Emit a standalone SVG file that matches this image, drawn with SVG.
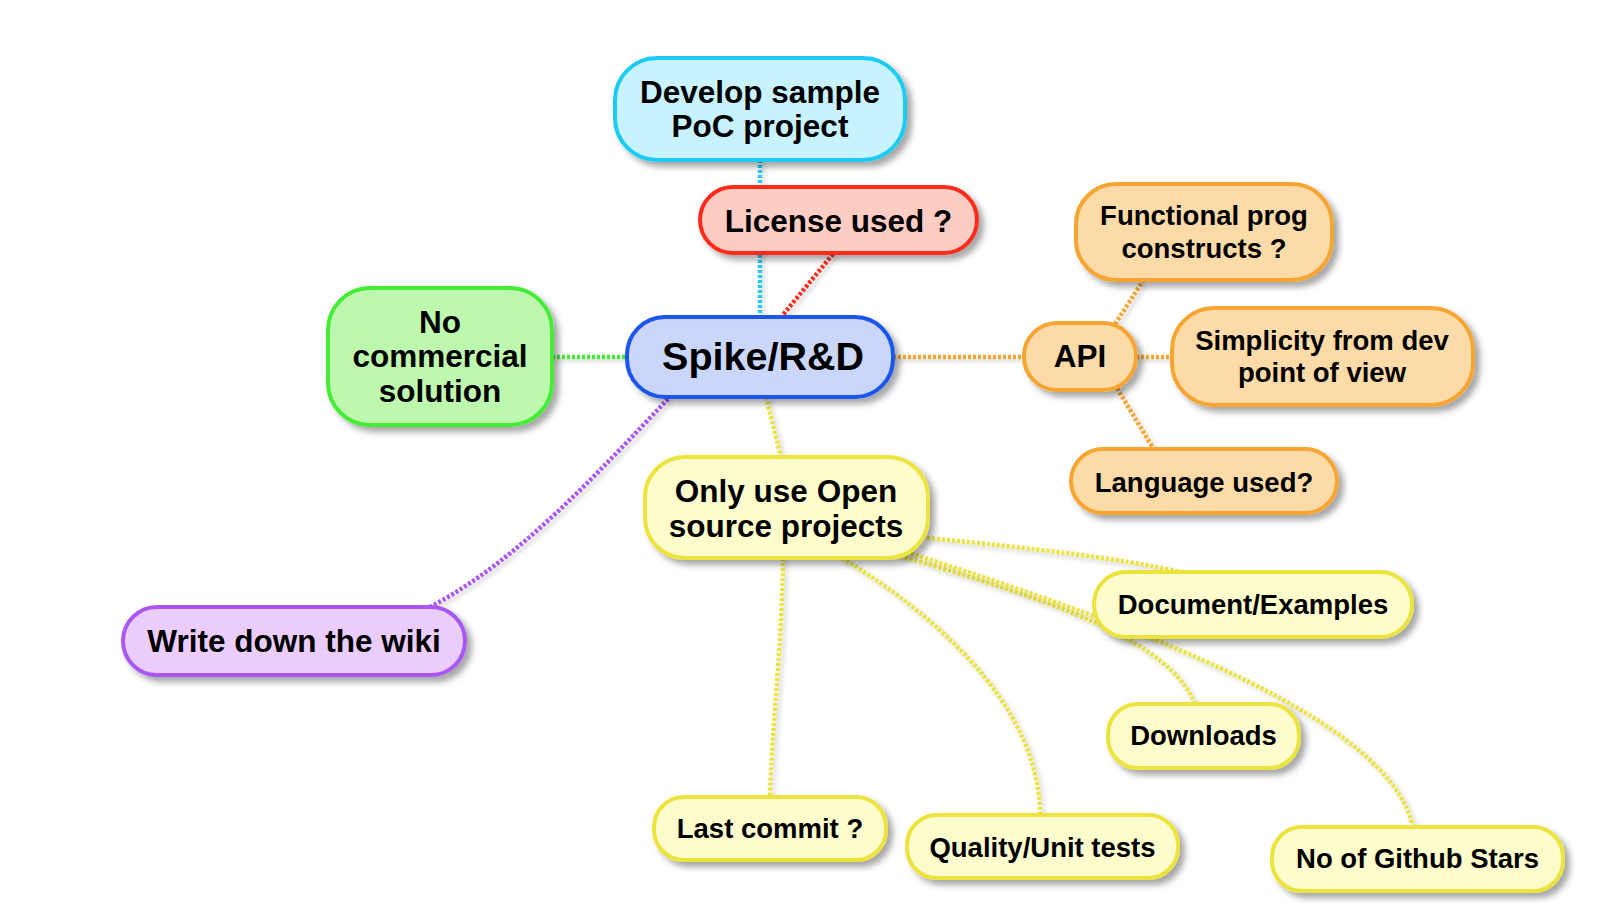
<svg xmlns="http://www.w3.org/2000/svg" width="1606" height="920" viewBox="0 0 1606 920">
<defs>
<filter id="sh" x="-20%" y="-20%" width="140%" height="150%">
<feDropShadow dx="5" dy="5" stdDeviation="3" flood-color="#000" flood-opacity="0.35"/>
</filter>
<filter id="lsh" filterUnits="userSpaceOnUse" x="0" y="0" width="1606" height="920">
<feDropShadow dx="3" dy="3" stdDeviation="2" flood-color="#000" flood-opacity="0.2"/>
</filter>
</defs>
<style>
.n rect{stroke-width:4;filter:url(#sh)}
.n text{font-family:"Liberation Sans",Arial,sans-serif;font-weight:bold;fill:#000;text-anchor:middle}
.big text{font-size:31.5px}
.sm text{font-size:27.5px}
.cyan rect{fill:#c8f2fd;stroke:#1ecbf2}
.red rect{fill:#fdccc2;stroke:#ff2b1c}
.blue rect{fill:#cad7fb;stroke:#1a55ee}
.green rect{fill:#bdf8ae;stroke:#44ec35}
.orange rect{fill:#fddba9;stroke:#f7a532}
.yellow rect{fill:#fdfccd;stroke:#ece43c}
.purple rect{fill:#eacdfc;stroke:#a956f4}
#connectors path{fill:none;stroke-width:4.5;stroke-dasharray:3 2;filter:url(#lsh)}
.c-cyan{stroke:#1ecbf2}.c-red{stroke:#ff2b1c}.c-green{stroke:#44ec35}.c-orange{stroke:#f7a532}.c-yellow{stroke:#ece43c}.c-purple{stroke:#a956f4}
</style>
<rect width="1606" height="920" fill="#fff"/>
<g id="connectors">
<path class="c-cyan" d="M760,160 L760,317"/>
<path class="c-red" d="M833,254 L782,316"/>
<path class="c-green" d="M552,357 L627,357"/>
<path class="c-orange" d="M893,357 L1024,357"/>
<path class="c-orange" d="M1115,324 L1143,281"/>
<path class="c-orange" d="M1136,357 L1172,357"/>
<path class="c-orange" d="M1117,388 L1153,448"/>
<path class="c-purple" d="M668,399 C600,470 520,560 430,607"/>
<path class="c-yellow" d="M766,397 L781,457"/>
<path class="c-yellow" d="M783,558 C782,650 772,720 770,797"/>
<path class="c-yellow" d="M842,558 C960,630 1040,720 1040,815"/>
<path class="c-yellow" d="M927,538 C1030,548 1120,558 1180,572"/>
<path class="c-yellow" d="M900,556 C1050,600 1170,640 1195,704"/>
<path class="c-yellow" d="M906,552 C1150,630 1390,720 1413,827"/>
</g>
<g id="develop" class="n big cyan">
<rect x="615" y="58" width="290" height="102" rx="42"/>
<text x="760" y="103">Develop sample</text>
<text x="760" y="137">PoC project</text>
</g>
<g id="license" class="n big red">
<rect x="700" y="187" width="277" height="66" rx="33"/>
<text x="838.5" y="232">License used ?</text>
</g>
<g id="spike" class="n blue">
<rect x="627" y="317" width="266" height="80" rx="38"/>
<text x="763" y="370" style="font-size:39.5px">Spike/R&amp;D</text>
</g>
<g id="nocommercial" class="n big green">
<rect x="328" y="288" width="224" height="137" rx="42"/>
<text x="440" y="333">No</text>
<text x="440" y="367">commercial</text>
<text x="440" y="402">solution</text>
</g>
<g id="api" class="n big orange">
<rect x="1024" y="323" width="112" height="67" rx="33"/>
<text x="1080" y="367">API</text>
</g>
<g id="functional" class="n sm orange">
<rect x="1076" y="184" width="256" height="96" rx="40"/>
<text x="1204" y="225">Functional prog</text>
<text x="1204" y="258">constructs ?</text>
</g>
<g id="simplicity" class="n sm orange">
<rect x="1172" y="308" width="301" height="97" rx="42"/>
<text x="1322" y="350">Simplicity from dev</text>
<text x="1322" y="382">point of view</text>
</g>
<g id="language" class="n sm orange">
<rect x="1071" y="449" width="266" height="64" rx="32"/>
<text x="1204" y="492">Language used?</text>
</g>
<g id="onlyuse" class="n big yellow">
<rect x="645" y="457" width="283" height="101" rx="40"/>
<text x="786" y="502">Only use Open</text>
<text x="786" y="537">source projects</text>
</g>
<g id="document" class="n sm yellow">
<rect x="1094" y="572" width="318" height="65" rx="32"/>
<text x="1253" y="614">Document/Examples</text>
</g>
<g id="wiki" class="n big purple">
<rect x="123" y="607" width="342" height="68" rx="34"/>
<text x="294" y="652">Write down the wiki</text>
</g>
<g id="lastcommit" class="n sm yellow">
<rect x="654" y="797" width="232" height="63" rx="30"/>
<text x="770" y="838">Last commit ?</text>
</g>
<g id="quality" class="n sm yellow">
<rect x="907" y="815" width="271" height="63" rx="30"/>
<text x="1042.5" y="857">Quality/Unit tests</text>
</g>
<g id="downloads" class="n sm yellow">
<rect x="1108" y="704" width="191" height="64" rx="30"/>
<text x="1203.5" y="745">Downloads</text>
</g>
<g id="stars" class="n sm yellow">
<rect x="1272" y="827" width="291" height="64" rx="30"/>
<text x="1417.5" y="868">No of Github Stars</text>
</g>
</svg>
